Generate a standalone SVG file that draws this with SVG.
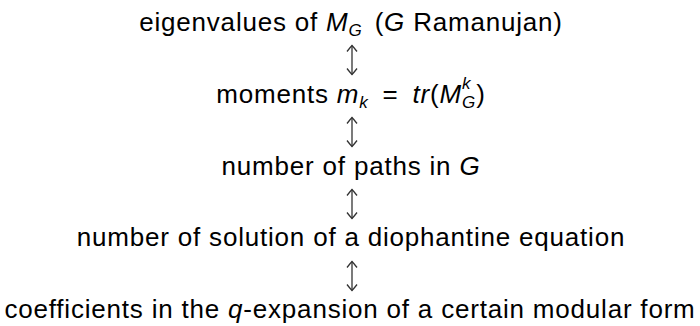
<svg xmlns="http://www.w3.org/2000/svg" width="700" height="326" viewBox="0 0 700 326">
<defs>
<style>
.t{font-family:"Liberation Sans",Arial,sans-serif;font-size:26px;letter-spacing:0.8px;fill:#000}
.i{font-style:italic}
.s{font-size:17px}
.c line{stroke:#333;stroke-width:1.3;marker-start:url(#h);marker-end:url(#h)}
</style>
<marker id="h" viewBox="-7 -7 14 14" markerWidth="14" markerHeight="14" refX="0" refY="0" orient="auto-start-reverse" markerUnits="userSpaceOnUse">
<path d="M-6,-5 Q-1.5,-1.5 0,0 Q-1.5,1.5 -6,5" fill="none" stroke="#333" stroke-width="1.3"/>
</marker>
</defs>
<rect width="700" height="326" fill="#fff"/>
<g id="n1"><text class="t" x="351" y="31" text-anchor="middle">eigenvalues of <tspan class="i">M</tspan><tspan class="i s" dy="5">G</tspan><tspan dx="4" dy="-5"> (</tspan><tspan class="i">G</tspan> Ramanujan)</text></g>
<g id="n2"><text class="t" x="351" y="103" text-anchor="middle">moments <tspan class="i">m</tspan><tspan class="i s" dy="5">k</tspan><tspan dx="6" dy="-5"> = </tspan><tspan class="i" dx="6">tr</tspan>(<tspan class="i">M</tspan><tspan class="i s" dy="5">G</tspan><tspan class="i s" dx="-14" dy="-19">k</tspan><tspan dx="5" dy="14">)</tspan></text></g>
<g id="n3"><text class="t" x="351" y="175" text-anchor="middle">number of paths in <tspan class="i">G</tspan></text></g>
<g id="n4"><text class="t" x="351" y="246" text-anchor="middle">number of solution of a diophantine equation</text></g>
<g id="n5"><text class="t" x="350" y="318" text-anchor="middle">coefficients in the <tspan class="i">q</tspan>-expansion of a certain modular form</text></g>
<g id="connectors" class="c">
<line x1="352" y1="45.5" x2="352" y2="74.5"/>
<line x1="352" y1="117.5" x2="352" y2="146.5"/>
<line x1="352" y1="189.5" x2="352" y2="218.5"/>
<line x1="352" y1="261.5" x2="352" y2="290.5"/>
</g>
</svg>
